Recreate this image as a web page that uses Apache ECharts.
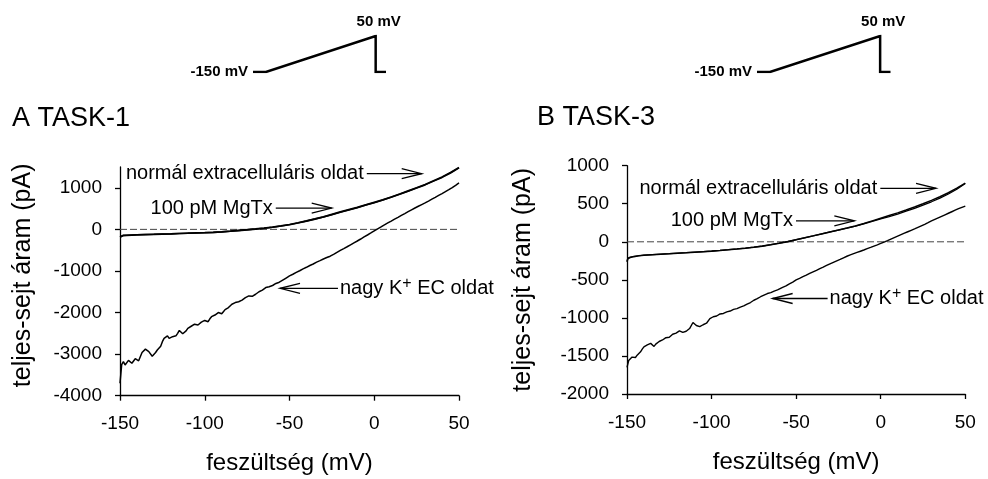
<!DOCTYPE html>
<html>
<head>
<meta charset="utf-8">
<script src="https://cdn.jsdelivr.net/npm/echarts@6/dist/echarts.min.js"></script>
<style>
  html, body { margin: 0; padding: 0; background: #fff; }
  #chart { width: 988px; height: 479px; }
</style>
</head>
<body>
<div id="chart"></div>
<script>
// Membrane voltage (mV) of the smooth traces
const voltSmooth = [-150, -149.5, -148, -146, -143, -140, -135, -130, -125, -120, -115, -110, -105, -100,
  -95, -90, -85, -80, -75, -70, -65, -60, -55, -50, -45, -40, -35, -30, -25, -20, -15, -10, -5,
  0, 5, 10, 15, 20, 25, 30, 35, 40, 45, 50];

// Membrane voltage (mV) of the noisy high-K+ traces: 1 mV steps where noise is large, 2 mV after
const voltNoisy = [-150, -149, -148, -147, -146, -145, -144, -143, -142, -141, -140, -139, -138, -137,
  -136, -135, -134, -133, -132, -131, -130, -129, -128, -127, -126, -125, -124, -123, -122, -121,
  -120, -119, -118, -117, -116, -115, -114, -113, -112, -111, -110, -109, -108, -107, -106, -105,
  -104, -103, -102, -101, -100, -99, -98, -97, -96, -95, -94, -93, -92, -91, -90, -89, -88, -87,
  -86, -85, -84, -83, -82, -81, -80, -79, -78, -77, -76, -75, -74, -73, -72, -71, -70, -69, -68,
  -67, -66, -65, -64, -63, -62, -61, -60,
  -58, -56, -54, -52, -50, -48, -46, -44, -42, -40, -38, -36, -34, -32, -30, -28, -26, -24, -22,
  -20, -18, -16, -14, -12, -10, -8, -6, -4, -2, 0, 2, 4, 6, 8, 10, 12, 14, 16, 18, 20, 22, 24,
  26, 28, 30, 32, 34, 36, 38, 40, 42, 44, 46, 48, 50];

// TASK-1 whole-cell current (pA)
const normalA = [-190, -160, -150, -145, -138, -132, -125, -118, -112, -106, -99, -92, -85, -78,
  -70, -58, -42, -25, -8, 10, 30, 55, 84, 118, 160, 205, 252, 300, 360, 420, 475, 530, 590,
  650, 710, 780, 850, 925, 1000, 1080, 1170, 1260, 1370, 1490];
const mgtxA = [-175, -150, -142, -140, -135, -130, -124, -119, -113, -108, -101, -95, -88, -80,
  -72, -61, -46, -30, -12, 6, 26, 50, 80, 112, 152, 198, 246, 296, 352, 410, 468, 522, 585,
  642, 705, 772, 845, 918, 995, 1070, 1160, 1250, 1355, 1480];
const highKA = [-3700, -3250, -3180, -3260, -3230, -3150, -3140, -3220, -3190, -3110, -3080, -3160,
  -3120, -2960, -2920, -2880, -2860, -2940, -2980, -3050, -3020, -2960, -2900, -2870, -2810, -2700,
  -2620, -2650, -2560, -2620, -2640, -2580, -2540, -2560, -2500, -2430, -2460, -2510, -2540, -2440,
  -2380, -2400, -2330, -2350, -2280, -2260, -2300, -2270, -2230, -2250, -2190, -2160, -2220, -2150,
  -2100, -2120, -2060, -2070, -2000, -1960, -2030, -1980, -1930, -1940, -1880, -1840, -1800, -1810,
  -1760, -1770, -1740, -1720, -1700, -1690, -1640, -1650, -1600, -1580, -1610, -1600, -1560, -1540,
  -1500, -1490, -1460, -1430, -1400, -1410, -1380, -1370, -1350,
  -1300, -1270, -1220, -1170, -1120, -1080, -1035, -995, -950, -912, -868, -832, -788, -752, -712,
  -678, -645, -600, -552, -505, -462, -418, -372, -326, -280, -232, -182, -135, -86, -36, 14, 60,
  110, 155, 200, 246, 290, 336, 380, 426, 470, 514, 556, 596, 636, 680, 726, 770, 816, 860, 906,
  955, 1005, 1060, 1120];

// TASK-3 whole-cell current (pA)
const normalB = [-265, -225, -205, -195, -185, -178, -170, -163, -157, -150, -144, -137, -130, -123,
  -115, -106, -96, -85, -72, -57, -40, -20, 2, 27, 52, 78, 103, 130, 155, 180, 208, 240, 275,
  310, 345, 380, 418, 458, 500, 545, 592, 645, 705, 770];
const mgtxB = [-250, -215, -200, -192, -183, -175, -168, -161, -155, -148, -142, -135, -128, -121,
  -113, -104, -94, -83, -70, -55, -38, -18, 4, 28, 53, 78, 104, 129, 154, 180, 206, 236, 268,
  300, 332, 365, 402, 440, 482, 526, 575, 628, 690, 765];
const highKB = [-1650, -1560, -1535, -1515, -1505, -1520, -1490, -1470, -1445, -1410, -1380, -1365,
  -1355, -1340, -1335, -1350, -1375, -1345, -1330, -1310, -1300, -1290, -1275, -1260, -1250, -1255,
  -1230, -1215, -1195, -1200, -1185, -1170, -1165, -1190, -1215, -1175, -1150, -1140, -1120, -1060,
  -1070, -1100, -1110, -1115, -1105, -1090, -1075, -1070, -1050, -1010, -1000, -985, -972, -975,
  -960, -948, -940, -942, -932, -920, -912, -910, -902, -888, -880, -878, -872, -858, -848, -842,
  -835, -818, -805, -798, -788, -768, -752, -748, -738, -722, -710, -700, -692, -680, -672, -668,
  -660, -648, -638, -632, -622,
  -598, -580, -552, -530, -500, -480, -458, -438, -416, -395, -375, -352, -332, -310, -290, -270,
  -250, -232, -210, -190, -172, -156, -140, -124, -108, -90, -74, -57, -40, -22, -3, 16, 36, 56,
  75, 94, 113, 132, 151, 170, 190, 210, 230, 252, 275, 295, 315, 335, 355, 375, 395, 415, 435,
  453, 470];

// Voltage ramp protocol: holding, ramp from -150 to +50 mV, step back
const protoTime = [0, 10, 95, 95, 103];
const protoVolt = [-150, -150, 50, -150, -150];
const protoLabels = ['-150 mV', '', '50 mV', '', ''];

// Axis tick values
const xTicks = [-150, -100, -50, 0, 50];
const yTicksA = [-4000, -3000, -2000, -1000, 0, 1000];
const yTicksB = [-2000, -1500, -1000, -500, 0, 500, 1000];

// Zero-current reference, drawn slightly past the end of the voltage axis
const zeroLineV = [-150, 57];
const zeroLineI = [0, 0];

const FONT = '"Liberation Sans", Arial, Helvetica, sans-serif';

function pairs(xs, ys) {
  return xs.map(function (x, i) { return [x, ys[i]]; });
}
function plain(v) { return String(v); }

function xAxisMain(gridIndex) {
  return {
    type: 'value', gridIndex: gridIndex, min: -150, max: 50, interval: 50,
    axisLine: { show: true, onZero: false, lineStyle: { color: '#000', width: 1.3 } },
    axisTick: { show: true, length: 5, customValues: xTicks, lineStyle: { color: '#000', width: 1.3 } },
    axisLabel: { color: '#000', fontSize: 19, margin: 19, fontFamily: FONT, customValues: xTicks, formatter: plain },
    splitLine: { show: false },
    name: 'feszültség (mV)', nameLocation: 'middle', nameGap: 56,
    nameTextStyle: { color: '#000', fontSize: 24, fontFamily: FONT }
  };
}

function yAxisMain(gridIndex, min, max, interval, ticks, gap, pad) {
  return {
    type: 'value', gridIndex: gridIndex, min: min, max: max, interval: interval,
    axisLine: { show: true, onZero: false, lineStyle: { color: '#000', width: 1.3 } },
    axisTick: { show: true, length: 5, customValues: ticks, lineStyle: { color: '#000', width: 1.3 } },
    axisLabel: { color: '#000', fontSize: 19, margin: 18, fontFamily: FONT, customValues: ticks, formatter: plain },
    splitLine: { show: false },
    name: 'teljes-sejt áram (pA)', nameLocation: 'middle', nameGap: gap,
    nameTextStyle: { color: '#000', fontSize: 25, fontFamily: FONT, padding: pad }
  };
}

function protoAxisX(gridIndex) {
  return { type: 'value', gridIndex: gridIndex, min: 0, max: 103, show: false };
}
function protoAxisY(gridIndex) {
  return { type: 'value', gridIndex: gridIndex, min: -150, max: 50, show: false };
}

function traceSeries(idx, xs, ys, width) {
  return {
    type: 'line', xAxisIndex: idx, yAxisIndex: idx, data: pairs(xs, ys),
    symbol: 'none', smooth: false, silent: true,
    lineStyle: { color: '#000', width: width }, z: 3
  };
}

function zeroSeries(idx) {
  return {
    type: 'line', xAxisIndex: idx, yAxisIndex: idx, data: pairs(zeroLineV, zeroLineI),
    symbol: 'none', clip: false, silent: true,
    lineStyle: { color: '#444', width: 1, type: [7, 3] }, z: 2
  };
}

function protoSeries(idx) {
  return {
    type: 'line', xAxisIndex: idx, yAxisIndex: idx,
    data: pairs(protoTime, protoVolt).map(function (p, i) {
      return {
        value: p,
        label: {
          show: protoLabels[i] !== '',
          formatter: protoLabels[i],
          position: i === 0 ? 'left' : 'top',
          distance: i === 0 ? 5 : 7,
          offset: i === 0 ? [0, 0] : [3, 0],
          color: '#000', fontSize: 15, fontWeight: 'bold', fontFamily: FONT
        }
      };
    }),
    showSymbol: true, symbol: 'circle', symbolSize: 0, silent: true,
    lineStyle: { color: '#000', width: 2.5, join: 'miter' }
  };
}

const chart = echarts.init(document.getElementById('chart'), null, { renderer: 'canvas' });

chart.setOption({
  animation: false,
  backgroundColor: '#fff',
  textStyle: { fontFamily: FONT },
  title: [
    { text: 'A TASK-1', left: 12, top: 105, padding: 0,
      textStyle: { color: '#000', fontSize: 27, fontWeight: 'normal', fontFamily: FONT } },
    { text: 'B TASK-3', left: 537, top: 104, padding: 0,
      textStyle: { color: '#000', fontSize: 27, fontWeight: 'normal', fontFamily: FONT } }
  ],
  grid: [
    { left: 120, top: 167, width: 339, height: 228.7 },
    { left: 627, top: 165.7, width: 338.3, height: 228.3 },
    { left: 253, top: 36, width: 133, height: 36 },
    { left: 757, top: 36, width: 133.5, height: 36 }
  ],
  xAxis: [xAxisMain(0), xAxisMain(1), protoAxisX(2), protoAxisX(3)],
  yAxis: [
    yAxisMain(0, -4000, 1500, 1000, yTicksA, 84, [0, 0, 0, 12]),
    yAxisMain(1, -2000, 1000, 500, yTicksB, 91, 0),
    protoAxisY(2), protoAxisY(3)
  ],
  series: [
    zeroSeries(0),
    traceSeries(0, voltNoisy, highKA, 1.5),
    traceSeries(0, voltSmooth, mgtxA, 1.6),
    traceSeries(0, voltSmooth, normalA, 1.7),
    zeroSeries(1),
    traceSeries(1, voltNoisy, highKB, 1.4),
    traceSeries(1, voltSmooth, mgtxB, 1.3),
    traceSeries(1, voltSmooth, normalB, 1.5),
    protoSeries(2),
    protoSeries(3)
  ]
});

// Labelled arrows pointing at the traces; anchors are given in (mV, pA)
const notes = [
  { axis: 0, text: 'normál extracelluláris oldat', tail: [-4.4, 1339], tip: [28, 1339] },
  { axis: 0, text: '100 pM MgTx', tail: [-58.1, 511], tip: [-25.1, 511] },
  { axis: 0, text: 'nagy K{sup|+} EC oldat', tail: [-21.4, -1418], tip: [-55.6, -1418] },
  { axis: 1, text: 'normál extracelluláris oldat', tail: [-0.25, 703], tip: [32.7, 703] },
  { axis: 1, text: '100 pM MgTx', tail: [-50.1, 276], tip: [-15.6, 276] },
  { axis: 1, text: 'nagy K{sup|+} EC oldat', tail: [-31.4, -745], tip: [-63.9, -745] }
];

const graphics = [];
notes.forEach(function (n) {
  const finder = { xAxisIndex: n.axis, yAxisIndex: n.axis };
  const t = chart.convertToPixel(finder, n.tail);
  const h = chart.convertToPixel(finder, n.tip);
  const dir = h[0] > t[0] ? 1 : -1;
  graphics.push({
    type: 'line', silent: true, z: 10,
    shape: { x1: t[0], y1: t[1], x2: h[0], y2: h[1] },
    style: { stroke: '#000', lineWidth: 1.3 }
  });
  graphics.push({
    type: 'polyline', silent: true, z: 10,
    shape: { points: [[h[0] - dir * 20, h[1] - 5], [h[0], h[1]], [h[0] - dir * 20, h[1] + 5]] },
    style: { stroke: '#000', lineWidth: 1.3, fill: null }
  });
  graphics.push({
    type: 'text', silent: true, z: 10,
    x: dir > 0 ? t[0] - 3 : t[0] + 2, y: t[1],
    style: {
      text: n.text, fill: '#000', fontSize: 20, fontFamily: FONT, lineHeight: 26,
      align: dir > 0 ? 'right' : 'left', verticalAlign: 'middle',
      rich: { sup: { fontSize: 16, lineHeight: 14, verticalAlign: 'top', fontFamily: FONT, fill: '#000' } }
    }
  });
});
chart.setOption({ graphic: graphics });
</script>
</body>
</html>
